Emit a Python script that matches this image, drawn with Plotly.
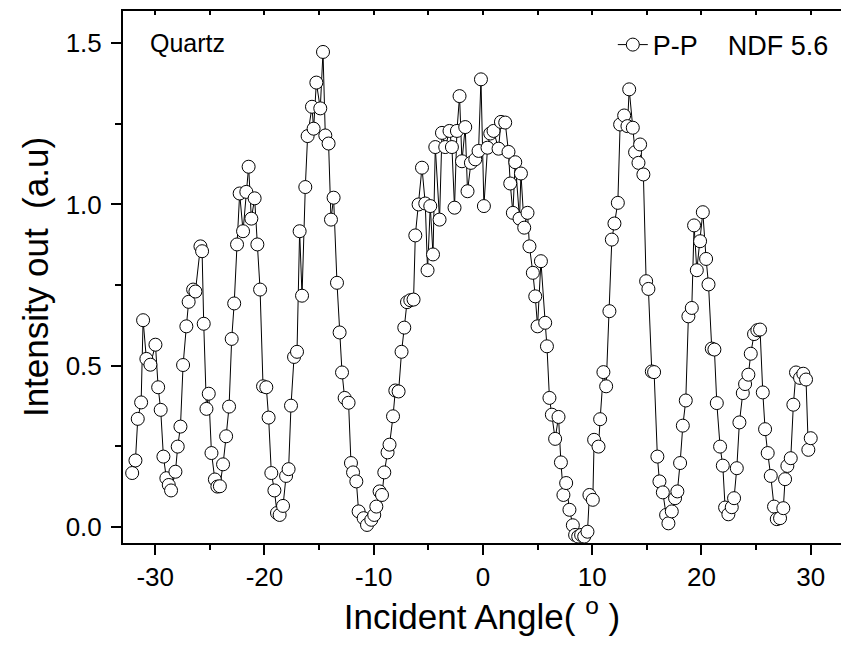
import plotly.graph_objects as go

# P-P scan on quartz, NDF 5.6
angle = [
    -32.11, -31.81, -31.60, -31.29, -31.11, -30.81, -30.44, -29.98, -29.73, -29.50,
    -29.25, -28.98, -28.76, -28.55, -28.15, -27.94, -27.69, -27.45, -27.15, -26.94,
    -26.53, -26.32, -25.86, -25.71, -25.56, -25.31, -25.10, -24.85, -24.54, -24.31,
    -24.08, -23.79, -23.51, -23.24, -23.00, -22.77, -22.51, -22.27, -21.96, -21.66,
    -21.45, -21.20, -20.90, -20.65, -20.40, -20.13, -19.83, -19.62, -19.37, -19.09,
    -18.85, -18.61, -18.30, -18.02, -17.79, -17.57, -17.29, -17.02, -16.78, -16.56,
    -16.26, -16.05, -15.65, -15.50, -15.25, -14.89, -14.64, -14.43, -14.13, -13.91,
    -13.67, -13.36, -13.12, -12.90, -12.66, -12.30, -12.08, -11.89, -11.59, -11.38,
    -10.92, -10.61, -10.22, -9.95, -9.76, -9.46, -9.24, -9.03, -8.73, -8.55,
    -8.23, -8.02, -7.72, -7.45, -7.20, -6.95, -6.65, -6.35, -6.19, -5.89,
    -5.58, -5.28, -5.07, -4.82, -4.57, -4.36, -3.97, -3.75, -3.45, -3.06,
    -2.84, -2.60, -2.38, -2.14, -1.92, -1.62, -1.41, -1.10, -0.70, -0.40,
    -0.18, 0.09, 0.42, 0.67, 0.97, 1.43, 1.65, 2.04, 2.34, 2.50,
    2.74, 2.96, 3.35, 3.48, 3.78, 4.08, 4.26, 4.57, 4.79, 5.00,
    5.31, 5.70, 5.86, 6.09, 6.31, 6.61, 6.92, 7.14, 7.37, 7.62,
    7.92, 8.23, 8.44, 8.72, 8.99, 9.27, 9.57, 9.75, 10.06, 10.18,
    10.58, 10.73, 11.03, 11.28, 11.58, 11.80, 12.04, 12.35, 12.56, 12.93,
    13.23, 13.39, 13.72, 13.93, 14.24, 14.39, 14.69, 14.94, 15.15, 15.46,
    15.67, 15.97, 16.16, 16.47, 16.77, 16.98, 17.29, 17.59, 17.80, 18.05,
    18.30, 18.57, 18.81, 19.12, 19.33, 19.58, 19.88, 20.13, 20.43, 20.65,
    20.95, 21.19, 21.41, 21.71, 21.96, 22.17, 22.47, 22.78, 22.99, 23.24,
    23.48, 23.79, 24.00, 24.30, 24.52, 24.82, 25.12, 25.37, 25.62, 25.83,
    26.07, 26.35, 26.65, 26.90, 27.20, 27.50, 27.66, 27.87, 28.18, 28.42,
    28.66, 29.03, 29.33, 29.58, 29.79, 30.01,
]
intensity = [
    0.167, 0.206, 0.335, 0.386, 0.641, 0.521, 0.503, 0.565, 0.433, 0.363,
    0.218, 0.151, 0.130, 0.113, 0.171, 0.249, 0.311, 0.502, 0.622, 0.698,
    0.736, 0.730, 0.870, 0.855, 0.630, 0.366, 0.413, 0.229, 0.147, 0.125,
    0.126, 0.194, 0.281, 0.373, 0.583, 0.693, 0.876, 1.034, 0.917, 1.039,
    1.117, 0.956, 1.019, 0.876, 0.736, 0.436, 0.433, 0.339, 0.167, 0.113,
    0.043, 0.037, 0.065, 0.158, 0.179, 0.376, 0.527, 0.543, 0.917, 0.717,
    1.054, 1.212, 1.303, 1.235, 1.378, 1.298, 1.473, 1.214, 1.189, 0.953,
    1.021, 0.757, 0.603, 0.479, 0.400, 0.385, 0.198, 0.169, 0.141, 0.048,
    0.027, 0.006, 0.022, 0.037, 0.063, 0.110, 0.099, 0.169, 0.231, 0.255,
    0.343, 0.423, 0.420, 0.543, 0.618, 0.697, 0.703, 0.705, 0.904, 1.000,
    1.114, 1.003, 0.796, 0.995, 0.845, 1.178, 0.953, 1.222, 1.178, 1.228,
    1.178, 0.990, 1.228, 1.336, 1.134, 1.240, 1.041, 1.129, 1.140, 1.166,
    1.388, 0.995, 1.176, 1.220, 1.228, 1.173, 1.256, 1.254, 1.163, 1.065,
    0.974, 1.131, 0.956, 1.096, 0.928, 0.974, 0.870, 0.788, 0.715, 0.622,
    0.824, 0.633, 0.560, 0.400, 0.348, 0.273, 0.341, 0.200, 0.099, 0.136,
    0.053, 0.005, -0.025, -0.030, -0.025, -0.030, -0.015, 0.099, 0.084, 0.270,
    0.249, 0.334, 0.480, 0.436, 0.669, 0.891, 0.941, 1.005, 1.248, 1.276,
    1.243, 1.357, 1.238, 1.162, 1.129, 1.186, 1.093, 0.762, 0.738, 0.482,
    0.480, 0.218, 0.141, 0.107, 0.037, 0.011, 0.048, 0.089, 0.110, 0.198,
    0.314, 0.392, 0.653, 0.679, 0.935, 0.796, 0.886, 0.976, 0.831, 0.752,
    0.553, 0.550, 0.384, 0.249, 0.190, 0.060, 0.039, 0.061, 0.089, 0.182,
    0.324, 0.415, 0.443, 0.472, 0.537, 0.598, 0.610, 0.612, 0.417, 0.303,
    0.229, 0.158, 0.063, 0.024, 0.027, 0.058, 0.148, 0.189, 0.213, 0.379,
    0.479, 0.462, 0.475, 0.457, 0.239, 0.275,
]

# tick labels use a plain hyphen like the original, not plotly's minus sign
x_ticks = [-30, -20, -10, 0, 10, 20, 30]
x_ticklabels = ["-30", "-20", "-10", "0", "10", "20", "30"]

font_family = "Liberation Sans, Arial, sans-serif"

fig = go.Figure()
fig.add_trace(go.Scatter(
    x=angle, y=intensity,
    mode="lines+markers",
    name="P-P\u00a0\u00a0\u00a0\u00a0NDF 5.6",
    line=dict(color="black", width=1),
    marker=dict(symbol="circle", size=13, color="white",
                line=dict(color="black", width=1)),
    cliponaxis=False,
))
# transparent copy on the top axis, only so the inside ticks on top get drawn
fig.add_trace(go.Scatter(
    x=angle, y=intensity, xaxis="x2",
    mode="markers", marker=dict(opacity=0),
    showlegend=False, hoverinfo="skip",
))

fig.update_layout(
    width=841, height=656,
    margin=dict(l=123, r=0, t=11, b=113),
    paper_bgcolor="white", plot_bgcolor="white",
    font=dict(family=font_family, size=26, color="black"),
    hovermode=False,
    legend=dict(x=0.99, y=0.936, xanchor="right", yanchor="middle",
                bgcolor="rgba(0,0,0,0)", font=dict(size=27)),
    xaxis=dict(
        range=[-32.95, 32.78], tickvals=x_ticks, ticktext=x_ticklabels,
        ticks="outside", ticklen=10, tickwidth=2, tickcolor="black",
        minor=dict(dtick=5, tick0=0, ticks="outside", ticklen=5,
                   tickwidth=2, tickcolor="black"),
        showline=True, linewidth=2, linecolor="black",
        showgrid=False, zeroline=False,
        title=dict(text="Incident Angle( <sup>o</sup> )", font=dict(size=35),
                   standoff=4),
    ),
    xaxis2=dict(
        overlaying="x", side="top", matches="x",
        dtick=5, tick0=0, ticks="inside", ticklen=4, tickwidth=2,
        tickcolor="black", showticklabels=False,
        showline=True, linewidth=2, linecolor="black",
        showgrid=False, zeroline=False,
    ),
    yaxis=dict(
        range=[-0.05, 1.6], dtick=0.5, tick0=0, tickformat=".1f",
        ticks="outside", ticklen=10, tickwidth=2, tickcolor="black",
        ticklabelstandoff=4,
        minor=dict(dtick=0.25, tick0=0, ticks="outside", ticklen=6,
                   tickwidth=2, tickcolor="black"),
        showline=True, linewidth=2, linecolor="black",
        showgrid=False, zeroline=False,
        title=dict(text="Intensity out\u00a0\u00a0(a.u)", font=dict(size=35),
                   standoff=6),
    ),
    annotations=[dict(
        text="Quartz", xref="paper", yref="paper", x=0.035, y=0.94,
        xanchor="left", yanchor="middle", showarrow=False,
        font=dict(size=25),
    )],
)

# page body has an 8px default margin; drop it so the figure sits at (0,0)
fig.write_html("out.html", config={"staticPlot": True},
               post_script="document.body.style.margin='0';document.body.style.overflow='hidden';")
